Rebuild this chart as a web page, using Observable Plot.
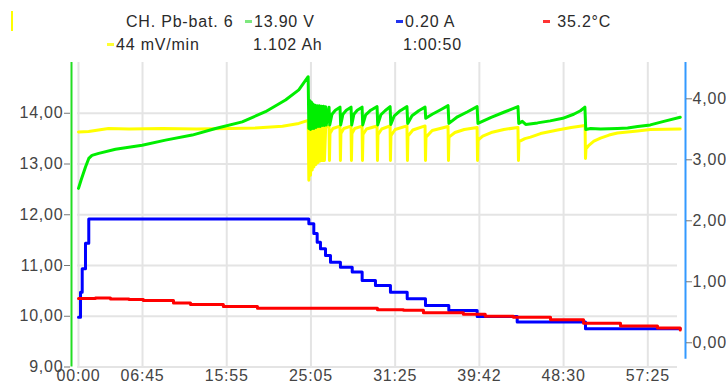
<!DOCTYPE html>
<html><head><meta charset="utf-8">
<script src="https://cdn.jsdelivr.net/npm/d3@7"></script>
<script src="https://cdn.jsdelivr.net/npm/@observablehq/plot@0.6"></script>
<style>
body{margin:0;background:#fff;font-family:"Liberation Sans",Arial,sans-serif;}
#wrap{position:relative;width:726px;height:387px;overflow:hidden;background:#fff;}
#legend{position:absolute;left:0;top:0;width:726px;height:60px;font-size:16px;letter-spacing:0.8px;color:#2a2a2a;}
.it{position:absolute;white-space:nowrap;line-height:18px;}
.sw{display:inline-block;width:7px;height:3px;vertical-align:middle;margin-right:2px;position:relative;top:-1px;}
#mark{position:absolute;left:11px;top:11px;width:2px;height:20px;background:#ffff00;}
</style></head><body>
<div id="wrap"><div id="chart"></div>
<div id="legend">
  <div id="mark"></div>
  <div class="it" style="left:126px;top:13px">CH. Pb-bat. 6</div>
  <div class="it" style="left:245px;top:13px"><span class="sw" style="background:#7ee87e"></span>13.90 V</div>
  <div class="it" style="left:396px;top:13px"><span class="sw" style="background:#2233ee"></span>0.20 A</div>
  <div class="it" style="left:543px;top:13px"><span class="sw" style="background:#ff3333"></span> 35.2°C</div>
  <div class="it" style="left:107px;top:36px"><span class="sw" style="background:#ffff33"></span>44 mV/min</div>
  <div class="it" style="left:253px;top:36px">1.102 Ah</div>
  <div class="it" style="left:403px;top:36px">1:00:50</div>
</div></div>
<script>
// x = logger sample index (non-uniform time); tick labels are the elapsed times at those samples
const xTickValues = [0, 76, 176, 276, 376, 476, 576, 676];
const xTickLabels = ["00:00","06:45","15:55","25:05","31:25","39:42","48:30","57:25"];
const xMax = 716;

// left axis (V)
const leftTicks = [9, 10, 11, 12, 13, 14];
const leftDomain = [9, 15];
// right axis (A)
const ampTicks = [0, 1, 2, 3, 4];
const rightAxisMinA = -0.27;
// amp -> left-axis units
const ampOffset = 9.4775, ampGain = 1.2017;
const ampToV = a => ampOffset + ampGain * a;

// green: battery voltage [sample, V]
const voltage = [
[0,12.52],[3,12.68],[8.3,12.94],[12.2,13.11],[16,13.17],[24,13.21],[43.9,13.29],[75.6,13.37],[103.3,13.47],[135,13.57],[162.7,13.70],[194.4,13.83],[222,14.03],[245.8,14.26],[261.6,14.46],[272.7,14.72],
[273.5,13.70],[274.5,14.25],[275.5,13.68],[276.5,14.22],[277.5,13.70],[278.5,14.18],[279.5,13.70],[281,14.16],[282,13.72],[283.5,14.15],[284.5,13.74],[286,14.15],[287,13.74],[288.5,14.14],[289.5,13.76],[291,14.14],[292,13.76],[293.5,14.13],
[294.2,13.77],[297.5,14.12],[298.3,13.77],[301,13.98],[305,14.06],[310.5,14.12],[311.3,13.77],[314,13.98],[318,14.06],[323.6,14.12],[324.4,13.77],[327,13.98],[331,14.06],[336.7,14.12],[337.5,13.77],[341,13.97],[347,14.06],[354.5,14.13],[355.3,13.77],[359,13.97],[364,14.05],[370,14.13],[370.8,13.78],[375,13.95],[382,14.05],[390,14.13],[390.9,13.80],[396,13.95],[404,14.05],[411.5,14.12],[412.3,13.90],[420,13.98],[430,14.07],[438.8,14.15],[439.8,13.80],[450,13.93],[462,14.03],[473.3,14.13],[474.3,13.80],[490,13.92],[505,14.02],[521.8,14.13],[522.8,13.80],[527,13.84],[531,13.78],[545,13.81],[560,13.85],[575,13.90],[588,13.98],[596,14.05],[601.3,14.12],[602.3,13.68],[608,13.70],[620,13.69],[640,13.70],[652,13.71],[664,13.74],[679,13.77],[695,13.84],[714.5,13.92]
];

// yellow: voltage change rate, drawn in left-axis units [sample, value]
const rate = [
[0,13.63],[12,13.64],[23.7,13.67],[35.6,13.70],[60,13.69],[100,13.70],[140,13.69],[180,13.70],[210,13.71],[242.2,13.745],[261.6,13.80],[272.7,13.86],
[273.5,12.68],[274.5,13.70],[275.5,12.78],[276.5,13.70],[277.5,12.88],[278.5,13.71],[279.5,12.94],[281,13.72],[282,12.99],[283.5,13.72],[284.5,13.03],[286,13.72],[287,13.06],[288.5,13.72],[289.5,13.07],[291,13.72],[292,13.07],[293.5,13.72],
[297.5,13.745],[298,13.07],[298.6,13.60],[302,13.70],[310.5,13.745],
[311,13.07],[311.6,13.60],[315,13.70],[323.6,13.745],
[324.1,13.07],[324.7,13.60],[328,13.70],[336.7,13.745],
[337.2,13.07],[337.8,13.58],[342,13.69],[354.5,13.75],
[355,13.07],[355.6,13.58],[360,13.69],[370,13.75],
[370.4,13.07],[371,13.56],[376,13.68],[390,13.75],
[390.6,13.07],[391.2,13.55],[397,13.67],[411.5,13.75],
[412,13.07],[412.6,13.53],[420,13.66],[438.8,13.74],
[439.3,13.07],[439.9,13.53],[447,13.62],[458,13.68],[473.3,13.72],
[473.8,13.07],[474.4,13.47],[480,13.55],[490,13.62],[505,13.68],[521.8,13.72],
[522.4,13.07],[523,13.44],[530,13.50],[536.7,13.53],[548.6,13.60],[568.8,13.67],[585,13.72],[601.5,13.76],
[602,13.11],[602.6,13.30],[605.6,13.36],[612,13.45],[619.8,13.51],[630,13.57],[640,13.61],[663.8,13.65],[679,13.68],[714.5,13.69]
];

// blue: charge current [sample, A]
const current = [
[0,0.42],[2.4,0.83],[4.4,1.215],[8.3,1.63],[12.2,2.03],[273.5,1.95],[279.4,1.79],[283.4,1.65],[287.3,1.54],[293.3,1.43],[299.2,1.32],[311,1.24],[325,1.16],[336.8,1.02],[352.6,0.94],[370.4,0.83],[390.3,0.72],[412,0.61],[439.7,0.53],[473.4,0.43],[520.9,0.34],[602,0.23],[714.5,0.23]
];

// red: temperature trace, drawn in left-axis units [sample, value]
const temperature = [
[0,10.35],[20,10.36],[38,10.34],[60,10.33],[77,10.31],[100,10.31],[112.8,10.26],[133,10.23],[172,10.19],[212.5,10.16],[352,10.16],[355,10.13],[386,10.12],[409.6,10.07],[457,10.04],[483,10.00],[516.5,9.98],[560.5,9.93],[599.7,9.86],[643.6,9.81],[687.5,9.77],[714.5,9.73]
];

const fmt = v => d3.format(".2f")(v).replace(".", ",");
const rightTickV = ampTicks.map(ampToV);
const currentV = current.map(([s, a]) => [s, ampToV(a)]);
const X = d => d[0], Y = d => d[1];

const chart = Plot.plot({
  width: 726, height: 387,
  marginTop: 62, marginBottom: 20.5, marginLeft: 78, marginRight: 45,
  style: {fontFamily: "'Liberation Sans', Arial, sans-serif", fontSize: "16px", letterSpacing: "0.8px", background: "white", color: "#444"},
  x: {domain: [0, xMax], axis: null},
  y: {domain: leftDomain, axis: null},
  marks: [
    Plot.gridY(leftTicks, {stroke: "#e4e4e4", strokeOpacity: 1, strokeWidth: 2, insetLeft: -1, insetRight: 4}),
    Plot.gridX(xTickValues, {stroke: "#e4e4e4", strokeOpacity: 1, strokeWidth: 2}),
    Plot.ruleX([0], {dx: -7, stroke: "#22dd22", strokeWidth: 2}),
    Plot.ruleX([xMax], {y1: ampToV(rightAxisMinA), y2: leftDomain[1], dx: 4, stroke: "#3399ff", strokeWidth: 2}),
    Plot.line(rate, {x: X, y: Y, stroke: "#ffff00", strokeWidth: 3}),
    Plot.line(voltage, {x: X, y: Y, stroke: "#00ee00", strokeWidth: 3}),
    Plot.line(currentV, {x: X, y: Y, stroke: "#0000ff", strokeWidth: 3, curve: "step-after"}),
    Plot.line(temperature, {x: X, y: Y, stroke: "#ff0000", strokeWidth: 3, curve: "step-after"}),
    Plot.axisY(leftTicks, {anchor: "left", tickFormat: fmt, tickSize: 6, tickPadding: 1, dx: -8, stroke: "#777", fill: "#444"}),
    Plot.axisY(rightTickV, {anchor: "right", tickFormat: d => fmt(ampTicks[rightTickV.indexOf(d)]), tickSize: 6, tickPadding: 1, dx: 4, stroke: "#777", fill: "#444"}),
    Plot.axisX(xTickValues, {anchor: "bottom", tickFormat: d => xTickLabels[xTickValues.indexOf(d)], tickSize: 0, tickPadding: 3, fill: "#444"})
  ]
});
document.getElementById("chart").appendChild(chart);
</script></body></html>
